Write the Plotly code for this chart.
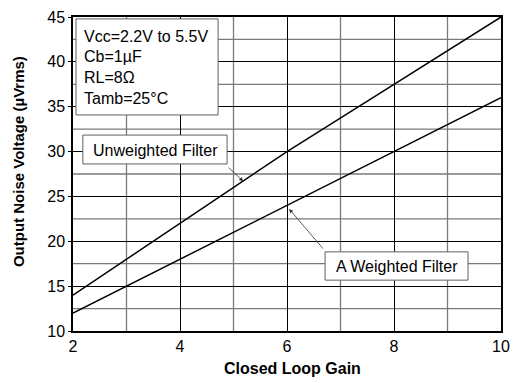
import plotly.graph_objects as go

gain = [2, 4, 6, 8, 10]
unweighted = [14, 22, 30, 37.5, 45]
a_weighted = [12, 18, 24, 30, 36]

x_ticks = [2, 4, 6, 8, 10]
y_ticks = [10, 15, 20, 25, 30, 35, 40, 45]
conditions = ["Vcc=2.2V to 5.5V", "Cb=1\u00b5F", "RL=8\u03a9", "Tamb=25\u00b0C"]

FONT = "Arial, Liberation Sans, sans-serif"

fig = go.Figure()
fig.add_trace(go.Scatter(x=gain, y=unweighted, mode="lines", line=dict(color="black", width=1.5), name="Unweighted Filter"))
fig.add_trace(go.Scatter(x=gain, y=a_weighted, mode="lines", line=dict(color="black", width=1.5), name="A Weighted Filter"))

# minor grid lines (gray)
shapes = []
for xv in [3, 5, 7, 9]:
    shapes.append(dict(type="line", xref="x", yref="paper", x0=xv, x1=xv, y0=0, y1=1, line=dict(color="#7a7a7a", width=1.3), layer="below"))
for yv in [12.5, 17.5, 22.5, 27.5, 32.5, 37.5, 42.5]:
    shapes.append(dict(type="line", xref="paper", yref="y", x0=0, x1=1, y0=yv, y1=yv, line=dict(color="#7a7a7a", width=1.3), layer="below"))

# boxes
box_col = "#606060"
shapes.append(dict(type="rect", xref="paper", yref="paper", x0=0.007, x1=0.339, y0=0.688, y1=0.994, line=dict(color=box_col, width=1), fillcolor="white", layer="above"))
shapes.append(dict(type="rect", xref="paper", yref="paper", x0=0.023, x1=0.360, y0=0.532, y1=0.624, line=dict(color=box_col, width=1), fillcolor="white", layer="above"))
shapes.append(dict(type="rect", xref="paper", yref="paper", x0=0.589, x1=0.923, y0=0.162, y1=0.252, line=dict(color=box_col, width=1), fillcolor="white", layer="above"))

annotations = []
ys = [0.939, 0.873, 0.806, 0.742]
for t, yy in zip(conditions, ys):
    annotations.append(dict(text=t, xref="paper", yref="paper", x=0.021, y=yy, xanchor="left", yanchor="middle", showarrow=False, font=dict(family=FONT, size=16, color="black")))
annotations.append(dict(text="Unweighted Filter", xref="paper", yref="paper", x=0.192, y=0.576, xanchor="center", yanchor="middle", showarrow=False, font=dict(family=FONT, size=16, color="black")))
annotations.append(dict(text="A Weighted Filter", xref="paper", yref="paper", x=0.756, y=0.207, xanchor="center", yanchor="middle", showarrow=False, font=dict(family=FONT, size=16, color="black")))
# arrows
annotations.append(dict(text="", x=5.18, y=26.7, xref="x", yref="y", ax=-16, ay=-15, showarrow=True, arrowhead=2, arrowsize=1, arrowwidth=0.8, arrowcolor="#333"))
annotations.append(dict(text="", x=6.04, y=23.6, xref="x", yref="y", ax=35, ay=41, showarrow=True, arrowhead=2, arrowsize=1, arrowwidth=0.8, arrowcolor="#333"))
# axis titles
annotations.append(dict(text="<b>Closed Loop Gain</b>", xref="paper", yref="paper", x=0.514, y=-0.118, xanchor="center", yanchor="middle", showarrow=False, font=dict(family=FONT, size=16, color="black")))
annotations.append(dict(text="<b>Output Noise Voltage (\u00b5Vrms)</b>", xref="paper", yref="paper", x=-0.1285, y=0.538, xanchor="center", yanchor="middle", textangle=-90, showarrow=False, font=dict(family=FONT, size=15, color="black")))

fig.update_layout(
    width=516, height=383,
    margin=dict(l=73, r=15, t=17, b=52),
    paper_bgcolor="white", plot_bgcolor="white",
    showlegend=False,
    shapes=shapes, annotations=annotations,
    font=dict(family=FONT, size=16, color="black"),
)
fig.update_xaxes(range=[2, 10], tickvals=x_ticks, ticktext=[str(v) for v in x_ticks],
                 showgrid=True, gridcolor="black", gridwidth=1,
                 showline=True, linecolor="black", linewidth=1.5, mirror=True,
                 ticks="inside", ticklen=4, tickcolor="black", zeroline=False,
                 automargin=False, tickfont=dict(family=FONT, size=16))
fig.update_yaxes(range=[10, 45], tickvals=y_ticks, ticktext=[str(v) for v in y_ticks],
                 showgrid=True, gridcolor="black", gridwidth=1,
                 showline=True, linecolor="black", linewidth=1.5, mirror=True,
                 ticks="outside", ticklen=3, tickcolor="black", zeroline=False,
                 automargin=False, tickfont=dict(family=FONT, size=16))

fig.write_html("out.html", config={"displayModeBar": False},
               post_script="document.body.style.margin='0';document.body.style.overflow='hidden';")
